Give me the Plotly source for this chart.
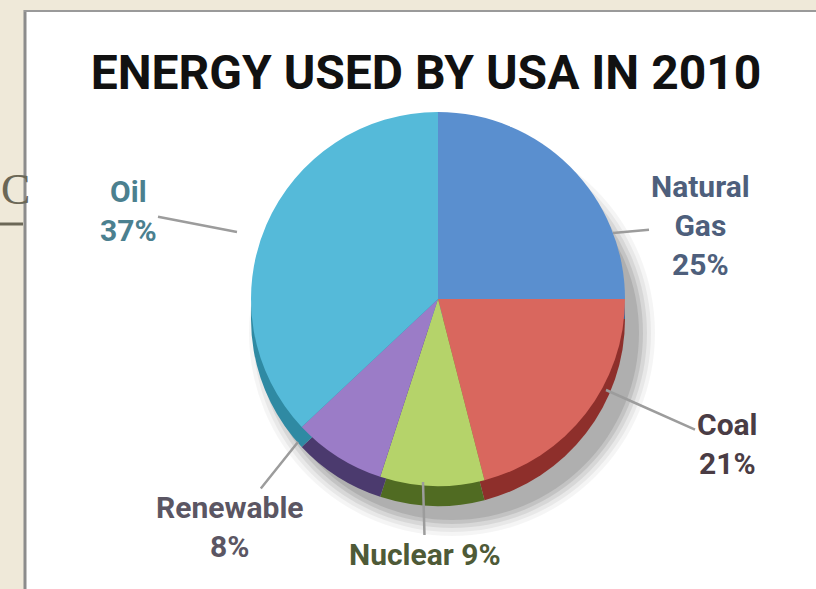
import plotly.graph_objects as go

# ---- data ----
sources = ["Natural Gas", "Coal", "Nuclear", "Renewable", "Oil"]
shares = [25, 21, 9, 8, 37]
label_texts = ["Natural<br>Gas<br>25%", "Coal<br>21%", "Nuclear 9%", "Renewable<br>8%", "Oil<br>37%"]
top_colors = ["#5a8fcf", "#d9675e", "#b5d36a", "#9b7cc7", "#55bad9"]
side_colors = ["#3d6596", "#8e2f2b", "#506b22", "#4b3a6e", "#2f8aa3"]
label_colors = ["#4e5f7c", "#4a3c44", "#4e5a37", "#5b5663", "#4b808f"]
title_text = "ENERGY USED BY USA IN 2010"

# ---- layout geometry (pixels) ----
W, H = 816, 589
CX, CY, R = 438, 299, 187
DEPTH = 20

def px(x):
    return x / W

def py(y):
    return 1 - y / H

def domain(cx, cy, r):
    return dict(x=[px(cx - r), px(cx + r)], y=[py(cy + r), py(cy - r)])

fig = go.Figure()
# side (3D depth) pie
fig.add_trace(go.Pie(
    labels=sources, values=shares, sort=False, direction="clockwise", rotation=0,
    marker=dict(colors=side_colors, line=dict(width=0)),
    textinfo="none", hoverinfo="skip", showlegend=False,
    domain=domain(CX, CY + DEPTH, R),
))
# top face
fig.add_trace(go.Pie(
    labels=sources, values=shares, sort=False, direction="clockwise", rotation=0,
    marker=dict(colors=top_colors, line=dict(width=0)),
    textinfo="none", showlegend=False,
    domain=domain(CX, CY, R),
))

# label callouts: (point on pie px, text centre px)
callouts = {
    "Natural Gas": ((613, 233), (700, 225)),
    "Coal": ((606, 390), (727, 444)),
    "Nuclear": ((423, 482), (425, 554)),
    "Renewable": ((298, 442), (230, 527)),
    "Oil": ((237, 232), (128, 211)),
}
annotations = []
for name, txt, col in zip(sources, label_texts, label_colors):
    (x0, y0), (tx, ty) = callouts[name]
    annotations.append(dict(
        x=px(x0), y=py(y0), xref="paper", yref="paper",
        ax=tx - x0, ay=ty - y0, axref="pixel", ayref="pixel",
        text=txt, showarrow=True, arrowhead=0, arrowwidth=2.5, arrowcolor="#9c9c9c",
        align="center",
        font=dict(family="Roboto, Liberation Sans, sans-serif", size=30, color=col, weight=700),
    ))

# slide artifact "C" on the left edge
annotations.append(dict(
    x=0, y=py(190), xref="paper", yref="paper", xanchor="left", yanchor="middle",
    text="C", showarrow=False, borderpad=0,
    font=dict(family="Liberation Serif, serif", size=44, color="#6b6756"),
))

shapes = [
    # white panel
    dict(type="rect", xref="paper", yref="paper", x0=px(24), x1=1.01, y0=-0.01, y1=py(10),
         fillcolor="white", line=dict(width=0), layer="below"),
    dict(type="line", xref="paper", yref="paper", x0=px(25), x1=px(25), y0=-0.01, y1=py(10),
         line=dict(color="#8c8c8c", width=3), layer="below"),
    dict(type="line", xref="paper", yref="paper", x0=px(24), x1=1.01, y0=py(11), y1=py(11),
         line=dict(color="#9a9a9a", width=2), layer="below"),
    # underline of "C"
    dict(type="line", xref="paper", yref="paper", x0=0, x1=px(23), y0=py(224), y1=py(224),
         line=dict(color="#6b6756", width=3)),
]
# soft drop shadow behind pie (offset to lower right)
for grow, alpha in [(16, 0.04), (12, 0.05), (8, 0.07), (4, 0.09), (0, 0.10)]:
    scx, scy, sr = CX + 14, CY + DEPTH + 14, R + grow
    shapes.append(dict(type="circle", xref="paper", yref="paper",
                       x0=px(scx - sr), x1=px(scx + sr), y0=py(scy + sr), y1=py(scy - sr),
                       fillcolor=f"rgba(0,0,0,{alpha})", line=dict(width=0), layer="below"))

fig.update_layout(
    width=W, height=H, autosize=False,
    margin=dict(l=0, r=0, t=0, b=0, pad=0),
    paper_bgcolor="#efe9d9", plot_bgcolor="white",
    title=dict(text=title_text, x=px(426), xanchor="center", y=py(72), yanchor="middle",
               xref="paper", yref="paper",
               font=dict(family="Roboto, Liberation Sans, sans-serif",
                         size=48, color="#111111", weight=700)),
    annotations=annotations,
    shapes=shapes,
)

fig.write_html("out.html", config={"displayModeBar": False},
               post_script="document.body.style.margin='0';")
